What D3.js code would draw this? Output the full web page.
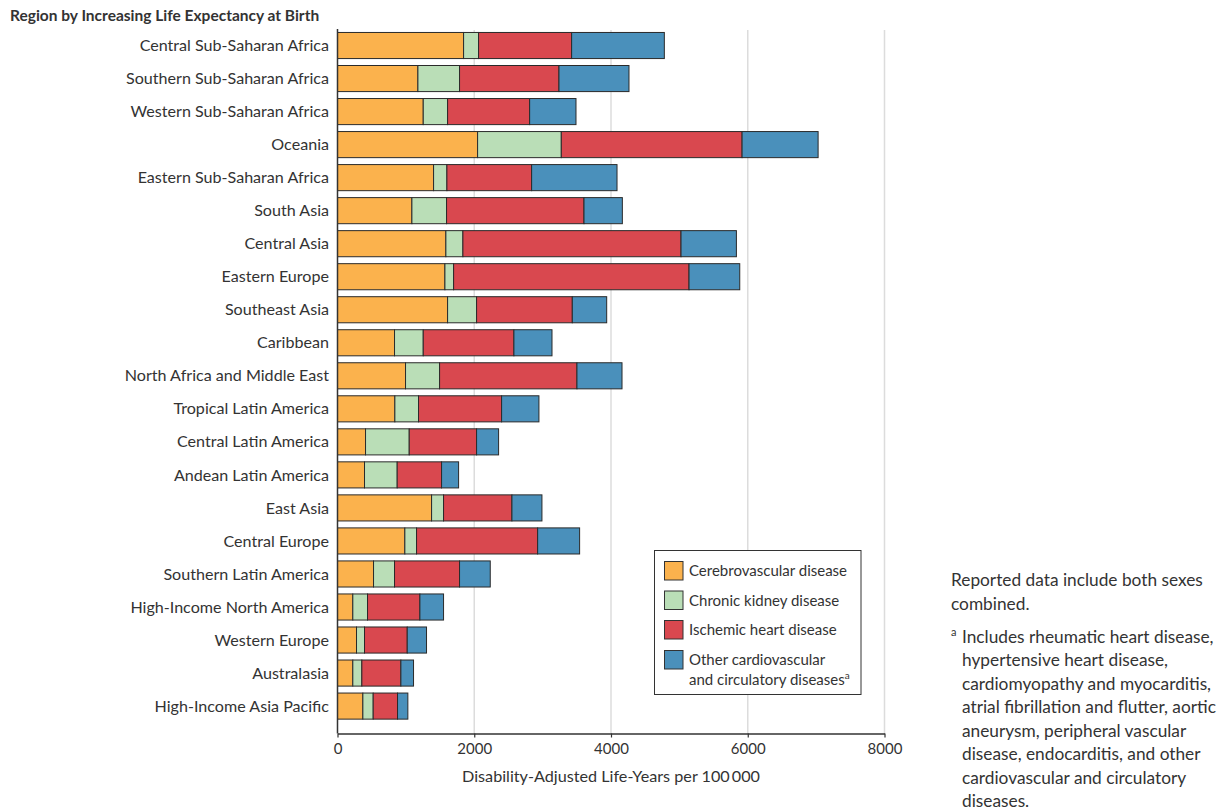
<!DOCTYPE html>
<html><head><meta charset="utf-8">
<script src="https://cdn.jsdelivr.net/npm/d3@7/dist/d3.min.js"></script>
<style>
html,body{margin:0;padding:0;background:#fff;}
svg{display:block;font-family:Lato,"Noto Sans",sans-serif;}
</style></head>
<body>
<svg id="chart" width="1222" height="808"></svg>
<script>
const regions = ["Central Sub-Saharan Africa","Southern Sub-Saharan Africa","Western Sub-Saharan Africa","Oceania","Eastern Sub-Saharan Africa","South Asia","Central Asia","Eastern Europe","Southeast Asia","Caribbean","North Africa and Middle East","Tropical Latin America","Central Latin America","Andean Latin America","East Asia","Central Europe","Southern Latin America","High-Income North America","Western Europe","Australasia","High-Income Asia Pacific"];
const cerebrovascular = [1844,1176,1254,2049,1405,1088,1585,1571,1610,834,995,839,410,395,1376,985,527,224,278,224,371];
const chronicKidney   = [219,609,356,1224,195,507,249,127,424,420,498,346,639,478,175,171,307,215,117,132,151];
const ischemicHeart   = [1361,1454,1200,2644,1239,2010,3190,3443,1400,1326,2009,1215,985,649,1000,1771,951,766,625,571,356];
const otherCardio     = [1356,1024,678,1112,1249,561,810,742,503,557,659,546,322,249,439,614,449,346,282,185,151];
const seriesNames = ["Cerebrovascular disease","Chronic kidney disease","Ischemic heart disease","Other cardiovascular and circulatory diseases"];
const seriesKeys = ["cerebro","ckd","ihd","other"];
const seriesColors = ["#FBB24D","#BADEB7","#D9484F","#4A90BB"];
const xTicks = [0,2000,4000,6000,8000];

const table = regions.map((r,i)=>({region:r,cerebro:cerebrovascular[i],ckd:chronicKidney[i],ihd:ischemicHeart[i],other:otherCardio[i]}));
const stacked = d3.stack().keys(seriesKeys)(table);

const svg = d3.select("#chart");
const x = d3.scaleLinear().domain([0,8000]).range([337.5,884.5]);
const y = d3.scaleBand().domain(regions).range([29,722.6]).paddingInner(0.21).paddingOuter(0.105);
const axisY = 733.5;
const color = d3.scaleOrdinal().domain(seriesKeys).range(seriesColors);
const textColor = "#333";

// gridlines
svg.append("g").selectAll("line").data(xTicks.filter(d=>d>0)).join("line")
  .attr("x1",d=>x(d)).attr("x2",d=>x(d)).attr("y1",30).attr("y2",axisY)
  .attr("stroke","#dcdcdc").attr("stroke-width",1.5);

// title
svg.append("text").attr("x",10).attr("y",21).attr("font-weight",700).attr("font-size",15.5)
  .attr("fill",textColor).text("Region by Increasing Life Expectancy at Birth");

// bars
svg.append("g").selectAll("g").data(stacked).join("g")
  .attr("fill",d=>color(d.key))
  .selectAll("rect").data(d=>d).join("rect")
  .attr("x",d=>x(d[0])).attr("width",d=>x(d[1])-x(d[0]))
  .attr("y",d=>y(d.data.region)).attr("height",y.bandwidth())
  .attr("stroke","#2a2a2a").attr("stroke-width",1);

// y labels
svg.append("g").selectAll("text").data(regions).join("text")
  .attr("x",329).attr("y",d=>y(d)+y.bandwidth()/2).attr("dy","0.35em")
  .attr("text-anchor","end").attr("font-size",16.1).attr("fill",textColor).text(d=>d);

// y axis line
svg.append("line").attr("x1",x(0)).attr("x2",x(0)).attr("y1",29).attr("y2",axisY)
  .attr("stroke","#333").attr("stroke-width",1.5);

// x axis
const xAxis = d3.axisBottom(x).tickValues(xTicks).tickFormat(d3.format("d")).tickSizeInner(4).tickSizeOuter(0).tickPadding(6);
const gx = svg.append("g").attr("transform",`translate(0,${axisY})`).call(xAxis);
gx.select(".domain").attr("stroke","#333").attr("stroke-width",1.5);
gx.selectAll(".tick line").attr("stroke","#333").attr("stroke-width",1.2);
gx.selectAll(".tick text").attr("font-size",15).attr("fill",textColor).attr("font-family","Lato,sans-serif");

svg.append("text").attr("x",x(4000)).attr("y",782).attr("text-anchor","middle")
  .attr("font-size",16.2).attr("fill",textColor).text("Disability-Adjusted Life-Years per 100\u2009000");

// legend
const lg = svg.append("g");
lg.append("rect").attr("x",654.5).attr("y",550.5).attr("width",206.5).attr("height",144)
  .attr("fill","#fff").attr("stroke","#333").attr("stroke-width",1);
const swY = [561.5,591,620.5,650.5];
seriesKeys.forEach((k,i)=>{
  lg.append("rect").attr("x",664.5).attr("y",swY[i]).attr("width",18.5).attr("height",18.5)
    .attr("fill",color(k)).attr("stroke","#333").attr("stroke-width",1);
});
lg.selectAll("text.leg").data(seriesNames.slice(0,3)).join("text")
  .attr("class","leg").attr("x",689).attr("y",(d,i)=>swY[i]+14.5)
  .attr("font-size",15).attr("fill",textColor).text(d=>d);
lg.append("text").attr("x",689).attr("y",swY[3]+14.5).attr("font-size",15).attr("fill",textColor).text("Other cardiovascular");
const l2 = lg.append("text").attr("x",689).attr("y",swY[3]+34).attr("font-size",15).attr("fill",textColor);
l2.append("tspan").text("and circulatory diseases");
l2.append("tspan").attr("font-size",10).attr("dy",-6).text("a");

// notes
const noteX = 951, noteIndent = 962;
const note1 = ["Reported data include both sexes","combined."];
const note2 = ["Includes rheumatic heart disease,","hypertensive heart disease,","cardiomyopathy and myocarditis,","atrial fibrillation and flutter, aortic","aneurysm, peripheral vascular","disease, endocarditis, and other","cardiovascular and circulatory","diseases."];
const ng = svg.append("g").attr("font-size",17.3).attr("fill",textColor);
note1.forEach((t,i)=>ng.append("text").attr("x",noteX).attr("y",586+i*23.6).text(t));
ng.append("text").attr("x",noteX).attr("y",636).attr("font-size",11).text("a");
note2.forEach((t,i)=>ng.append("text").attr("x",noteIndent).attr("y",642.5+i*23.5).text(t));
</script>
</body></html>
